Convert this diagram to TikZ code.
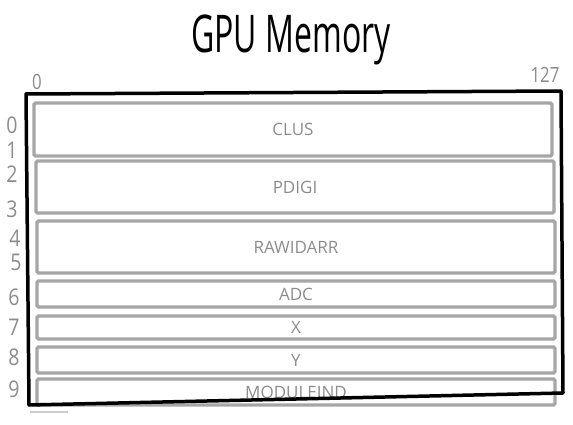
\documentclass[tikz,border=0pt]{standalone}
\usepackage{fontspec}
\setmainfont{Open Sans}
\usetikzlibrary{positioning}
\definecolor{pencil}{HTML}{8C8C8C}
\definecolor{blockline}{HTML}{A6A6A6}

\begin{document}
\begin{tikzpicture}[x=1pt, y=-1pt,
    block/.style={draw=blockline, line width=3.2pt, rounded corners=1.5pt,
        minimum width=518pt, inner sep=0pt, text=pencil,
        font=\fontsize{17}{17}\selectfont},
    rowno/.style={text=pencil, font=\fontsize{23}{23}\selectfont, xscale=0.85},
    colno/.style={text=pencil, font=\fontsize{21}{21}\selectfont, xscale=0.8}]
    \useasboundingbox (0,0) rectangle (573,425);

    % Title
    \node[font=\fontsize{40}{40}\selectfont, xscale=0.8, yscale=1.3] (title) at (291,40) {GPU Memory};

    % Blocks
    \node[block, minimum height=53pt] (clus) at (293,129.5) {CLUS};
    \node[block, minimum height=52pt] (pdigi) at (295,187) {PDIGI};
    \node[block, minimum height=52pt] (rawidarr) at (296,247) {RAWIDARR};
    \node[block, minimum height=26pt] (adc) at (296,294) {ADC};
    \node[block, minimum height=23pt] (xrow) at (296,327.5) {X};
    \node[block, minimum height=26pt] (yrow) at (296,360) {Y};
    \node[block, minimum height=26pt] (moduleind) at (296,392) {MODULEIND};

    % Frame
    \coordinate (tl) at (26,94);
    \coordinate (tr) at (561,91);
    \coordinate (br) at (563,393);
    \coordinate (bl) at (29,405);
    \draw[black, line width=3.5pt, line join=round] (tl) -- (tr) -- (br) -- (bl) -- cycle;

    % Column labels
    \node[colno] (col0) at (37,82) {0};
    \node[colno] (col127) at (545,75) {127};

    % Row labels
    \node[rowno] (r0) at (12,125) {0};
    \node[rowno] (r1) at (12,150) {1};
    \node[rowno] (r2) at (12,174) {2};
    \node[rowno] (r3) at (12,209) {3};
    \node[rowno] (r4) at (15,238) {4};
    \node[rowno] (r5) at (16,262) {5};
    \node[rowno] (r6) at (14,297) {6};
    \node[rowno] (r7) at (14,327) {7};
    \node[rowno] (r8) at (14,357) {8};
    \node[rowno] (r9) at (14,389) {9};

    % Stray stroke
    \coordinate (s1) at (30,412);
    \coordinate (s2) at (68,412);
    \draw[gray!40, line width=1.5pt] (s1) -- (s2);
\end{tikzpicture}
\end{document}
